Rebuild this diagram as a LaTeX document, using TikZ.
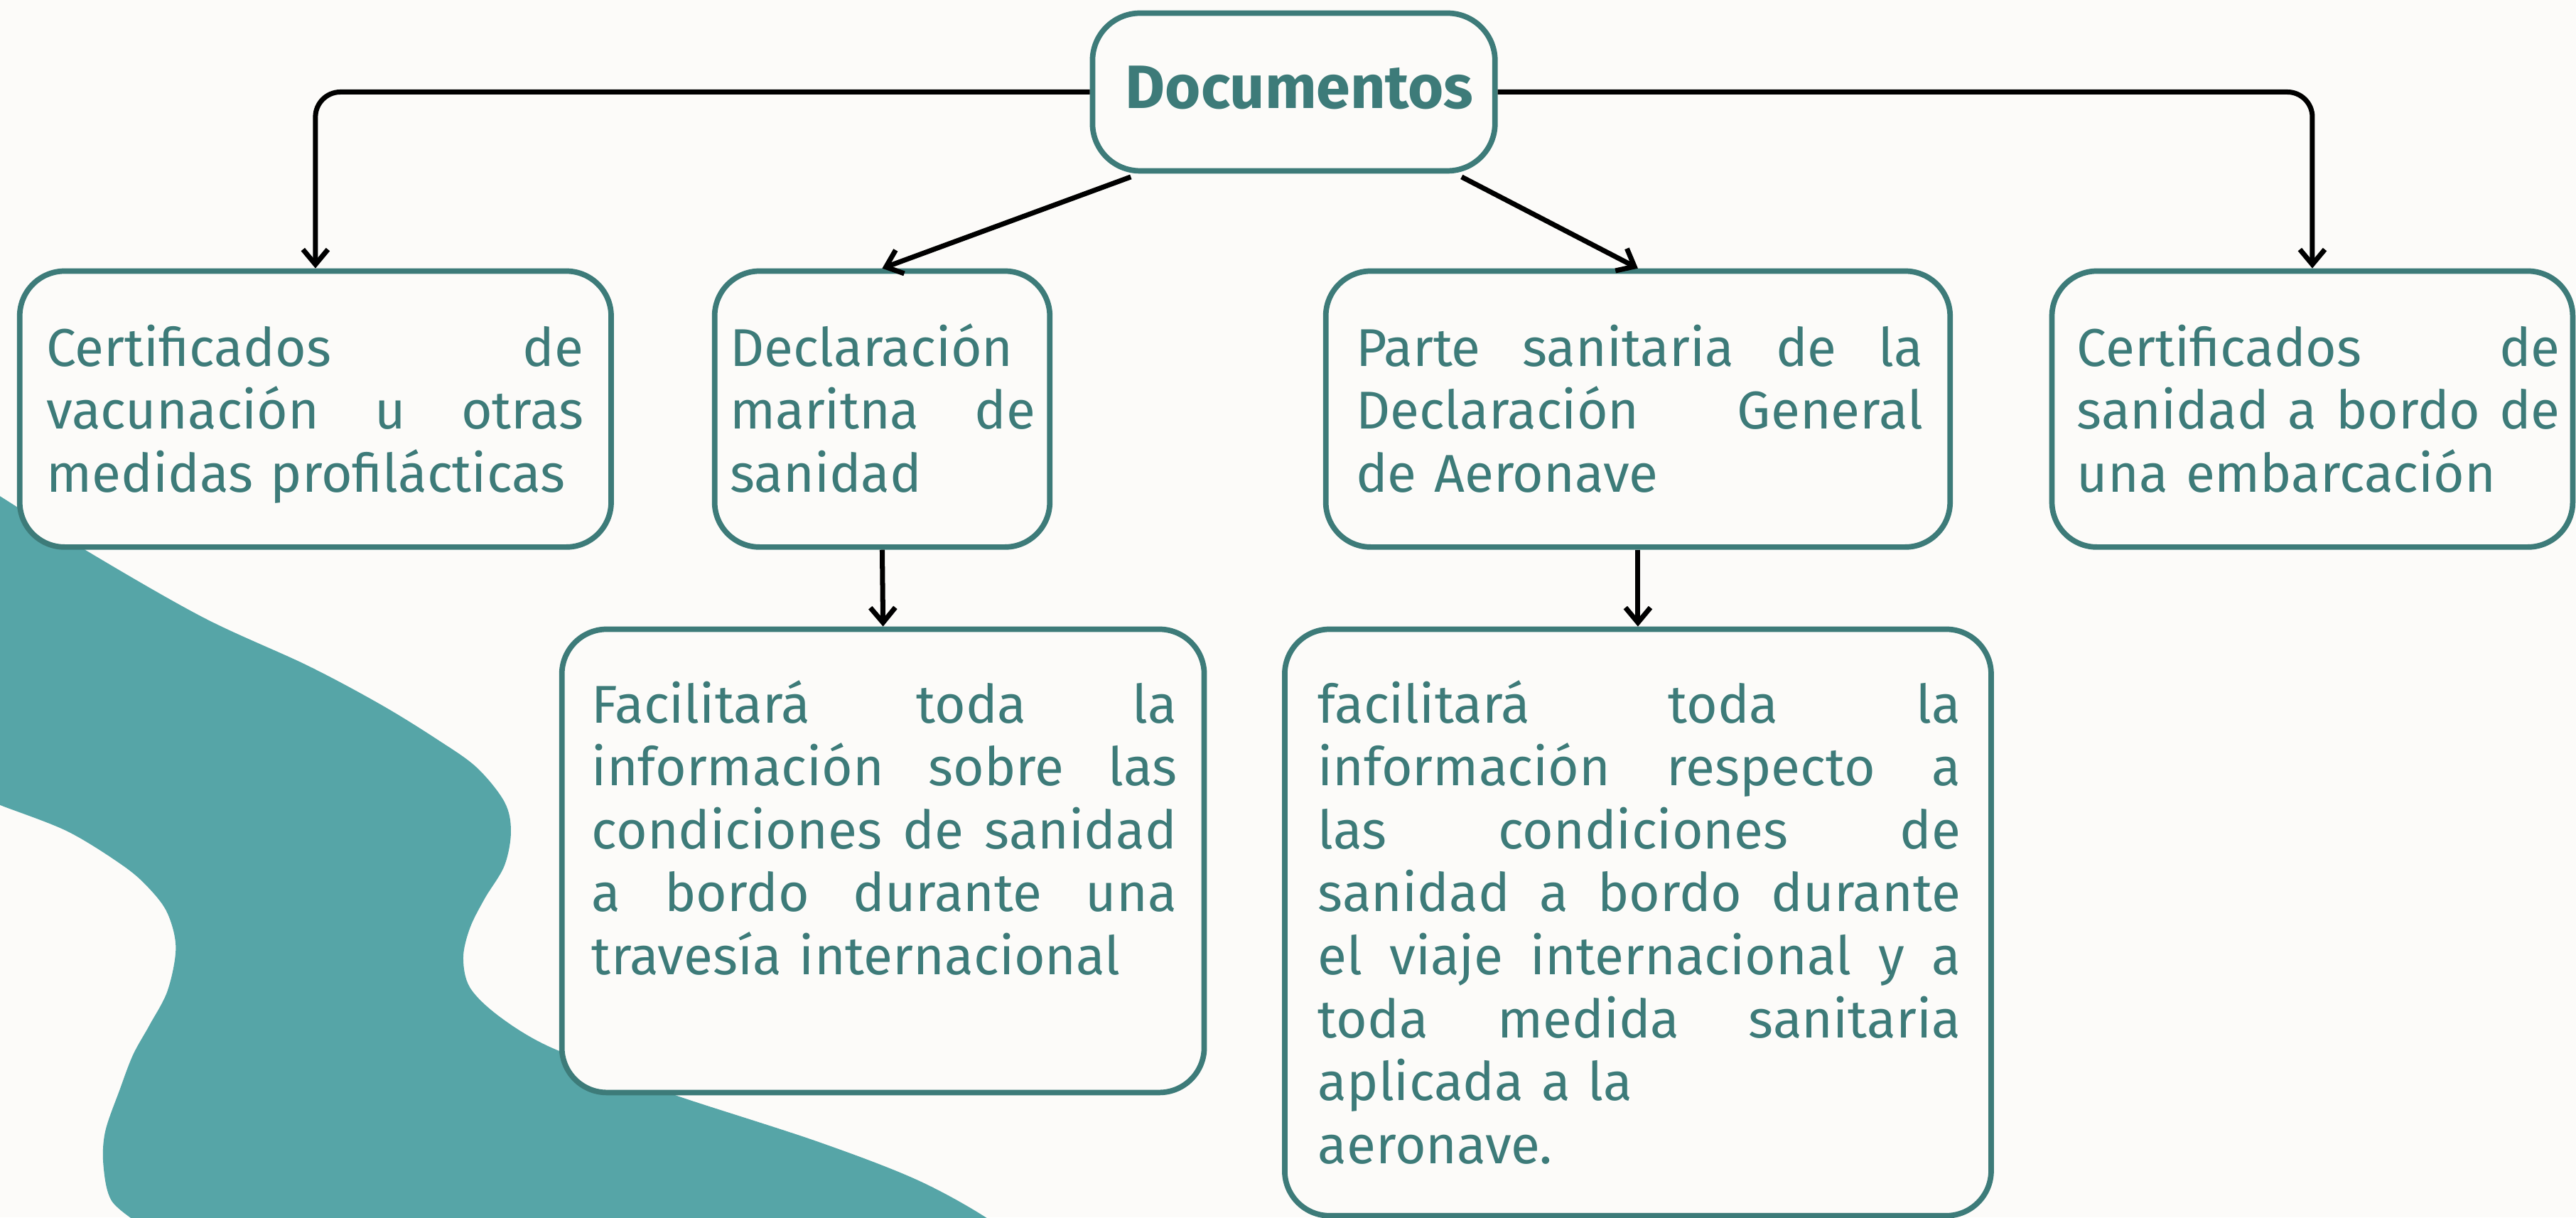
\documentclass[tikz,border=0pt]{standalone}
\usepackage{fontspec}
\setmainfont{Fira Sans}
\usetikzlibrary{arrows.meta,calc,fit}
\definecolor{bgc}{HTML}{FCFBF9}
\definecolor{tealtxt}{HTML}{3D7B79}
\definecolor{blobc}{HTML}{56A5A7}
\newcommand\jline[1]{\leavevmode\hbox to\linewidth{#1}}
\tikzset{
  box/.style={draw=tealtxt, line width=2.2pt, rounded corners=18pt, fill=bgc, inner sep=0pt},
  txt/.style={text=tealtxt, inner sep=0pt, align=left, anchor=base west,
    font={\fontsize{21.3pt}{25.2pt}\selectfont}},
  conn/.style={draw=black, line width=2pt, -{Straight Barb[length=6pt,width=10pt]}},
}
\begin{document}
\begin{tikzpicture}[x=0.023119cm, y=-0.023119cm]
\useasboundingbox (0,0) rectangle (1568,741);
\fill[bgc] (0,0) rectangle (1568,741);
% teal blob
\begin{scope}
\clip (0,0) rectangle (1568,741);
\fill[blobc] plot[smooth, tension=0.55] coordinates {(-10,296) (0,302) (54,336) (124,376) (187,405) (232,429) (266,450) (290,467) (307,488) (311,506) (307,527) (295,547) (286,565) (282,583) (286,601) (303,618) (332,636) (380,655) (415,668) (498,695) (560,719) (606,745) (625,765)}
 -- (80,765)
 -- plot[smooth, tension=0.55] coordinates {(85,745) (68,731) (63,710) (64,689) (73,663) (81,642) (91,624) (102,603) (107,577) (102,556) (91,541) (75,527) (41,506) (0,490) (-10,485)} -- cycle;
\end{scope}
% boxes
\node[box, rounded corners=19pt, fit={(665,8) (910,104)}] (doc) {};
\node[box, fit={(12,165) (372,333)}] (b1) {};
\node[box, fit={(435,165) (639,333)}] (b2) {};
\node[box, fit={(807,165) (1187,333)}] (b3) {};
\node[box, fit={(1249,165) (1566,333)}] (b4) {};
\node[box, fit={(342,383) (733,665)}] (b5) {};
\node[box, fit={(782,383) (1212,740)}] (b6) {};
% texts
\node[text=tealtxt, inner sep=0pt, anchor=base, font={\fontsize{24.5pt}{28pt}\selectfont\bfseries}] (tdoc) at (791,66) {Documentos};
\node[txt, text width=215pt] (t1) at (28,222.8) {\jline{Certificados\hfill de}\\\jline{vacunación\hfill u\hfill otras}\\medidas profilácticas};
\node[txt, text width=122.4pt] (t2) at (444,222.8) {Declaración\\\jline{maritna\hfill de}\\sanidad};
\node[txt, text width=227pt] (t3) at (825,222.8) {\jline{Parte\hfill sanitaria\hfill de\hfill la}\\\jline{Declaración\hfill General}\\de Aeronave};
\node[txt, text width=193.4pt] (t4) at (1264,222.8) {\jline{Certificados\hfill de}\\\jline{sanidad\hfill a\hfill bordo\hfill de}\\una embarcación};
\node[txt, text width=234.2pt] (t5) at (360,440) {\jline{Facilitará\hfill toda\hfill la}\\\jline{información\hfill sobre\hfill las}\\\jline{condiciones\hfill de\hfill sanidad}\\\jline{a\hfill bordo\hfill durante\hfill una}\\travesía internacional};
\node[txt, text width=257.2pt] (t6) at (802,440) {\jline{facilitará\hfill toda\hfill la}\\\jline{información\hfill respecto\hfill a}\\\jline{las\hfill condiciones\hfill de}\\\jline{sanidad\hfill a\hfill bordo\hfill durante}\\\jline{el\hfill viaje\hfill internacional\hfill y\hfill a}\\\jline{toda\hfill medida\hfill sanitaria}\\aplicada a la\\aeronave.};
% connectors
\draw[conn, rounded corners=10pt] (doc.west) -| (b1.north);
\draw[conn, rounded corners=10pt] (doc.east) -| (b4.north);
\draw[conn] ($(doc.south west)+(25,2)$) -- (b2.north);
\draw[conn] ($(doc.south east)+(-22,2)$) -- (b3.north);
\draw[conn] (b2.south) -- (b5.north);
\draw[conn] (b3.south) -- (b6.north);
\end{tikzpicture}
\end{document}
